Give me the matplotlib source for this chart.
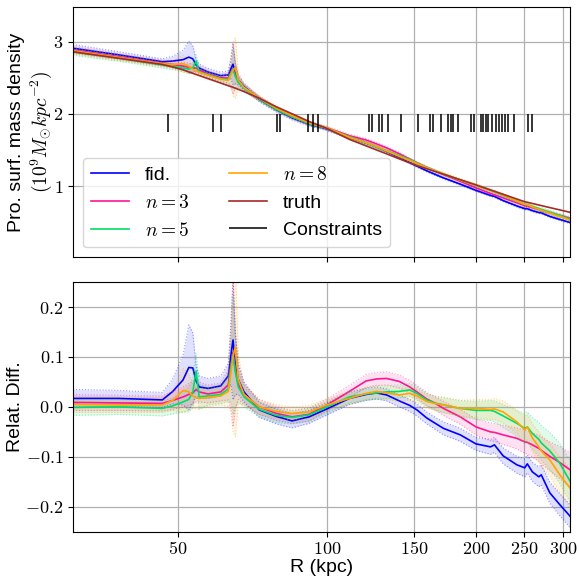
import numpy as np
import matplotlib
matplotlib.use("Agg")
import matplotlib.pyplot as plt
from matplotlib.ticker import FixedLocator, NullLocator, FuncFormatter

plt.rcParams['font.family'] = ['Liberation Sans', 'DejaVu Sans']
plt.rcParams['mathtext.fontset'] = 'cm'

# radius grid (kpc)
R = [30.7, 38, 46.5, 48.8, 51.2, 52.6, 53.6, 54.4, 55.2, 57.5,
     61, 63.2, 64.0, 64.6, 65.3, 66.2, 68, 73, 79, 85,
     92, 100, 111, 120, 126, 132, 140, 147, 152, 159,
     165, 172, 186, 200, 214, 218, 227, 242, 251, 254,
     260, 268, 271, 282, 295, 310]

# true projected surface mass density (1e9 Msun/kpc^2)
truth = [2.86, 2.77, 2.685, 2.65, 2.61, 2.582, 2.562, 2.547, 2.532, 2.489,
         2.428, 2.391, 2.378, 2.37, 2.357, 2.341, 2.309, 2.217, 2.10, 2.003,
         1.897, 1.80, 1.649, 1.559, 1.502, 1.449, 1.38, 1.324, 1.287, 1.243,
         1.207, 1.167, 1.091, 1.02, 0.95, 0.931, 0.89, 0.824, 0.787, 0.779,
         0.763, 0.742, 0.734, 0.706, 0.675, 0.64]

# relative differences and band half-widths
diff_fid = [0.017, 0.017, 0.014, 0.031, 0.054, 0.079, 0.078, 0.052, 0.040, 0.037,
            0.042, 0.062, 0.105, 0.134, 0.085, 0.055, 0.030, -0.006, -0.019, -0.028,
            -0.020, -0.004, 0.017, 0.025, 0.028, 0.024, 0.012, 0.003, -0.006, -0.022,
            -0.032, -0.043, -0.056, -0.074, -0.080, -0.076, -0.098, -0.116, -0.122, -0.114,
            -0.130, -0.140, -0.136, -0.172, -0.195, -0.219]
err_fid = [0.018, 0.016, 0.015, 0.025, 0.05, 0.085, 0.07, 0.03, 0.022, 0.02,
           0.02, 0.025, 0.06, 0.12, 0.06, 0.03, 0.02, 0.015, 0.015, 0.014,
           0.013, 0.012, 0.012, 0.012, 0.012, 0.012, 0.012, 0.012, 0.012, 0.012,
           0.012, 0.013, 0.013, 0.013, 0.015, 0.015, 0.016, 0.017, 0.018, 0.018,
           0.019, 0.02, 0.02, 0.021, 0.022, 0.023]

diff_n3 = [0.009, 0.008, 0.007, 0.013, 0.020, 0.025, 0.028, 0.035, 0.030, 0.026,
           0.030, 0.044, 0.085, 0.110, 0.075, 0.045, 0.025, 0.0, -0.013, -0.020,
           -0.015, 0.004, 0.031, 0.052, 0.056, 0.057, 0.051, 0.040, 0.030, 0.016,
           0.008, -0.003, -0.020, -0.040, -0.050, -0.051, -0.056, -0.063, -0.070, -0.071,
           -0.076, -0.083, -0.087, -0.099, -0.111, -0.126]
err_n3 = [0.016, 0.015, 0.015, 0.018, 0.02, 0.022, 0.022, 0.025, 0.02, 0.018,
          0.018, 0.03, 0.09, 0.15, 0.08, 0.03, 0.02, 0.015, 0.014, 0.013,
          0.013, 0.012, 0.012, 0.013, 0.013, 0.013, 0.013, 0.013, 0.013, 0.013,
          0.013, 0.014, 0.015, 0.016, 0.018, 0.018, 0.019, 0.021, 0.023, 0.023,
          0.024, 0.026, 0.027, 0.029, 0.032, 0.035]

diff_n5 = [-0.001, 0.0, -0.003, 0.002, 0.010, 0.015, 0.030, 0.072, 0.020, 0.022,
           0.025, 0.036, 0.080, 0.105, 0.070, 0.040, 0.020, -0.005, -0.017, -0.021,
           -0.016, 0.0, 0.020, 0.026, 0.028, 0.030, 0.031, 0.034, 0.027, 0.014,
           0.008, 0.004, -0.003, -0.007, -0.007, -0.009, -0.018, -0.033, -0.043, -0.040,
           -0.053, -0.065, -0.072, -0.088, -0.112, -0.149]
err_n5 = [0.016, 0.015, 0.015, 0.016, 0.02, 0.025, 0.03, 0.035, 0.025, 0.018,
          0.018, 0.025, 0.07, 0.12, 0.07, 0.03, 0.02, 0.015, 0.014, 0.013,
          0.013, 0.012, 0.012, 0.012, 0.013, 0.013, 0.013, 0.013, 0.013, 0.013,
          0.014, 0.015, 0.016, 0.018, 0.02, 0.021, 0.023, 0.026, 0.03, 0.03,
          0.032, 0.034, 0.035, 0.037, 0.04, 0.042]

diff_n8 = [0.005, 0.004, 0.004, 0.013, 0.033, 0.030, 0.022, 0.018, 0.017, 0.019,
           0.022, 0.031, 0.070, 0.100, 0.120, 0.055, 0.025, 0.0, -0.009, -0.013,
           -0.010, 0.004, 0.017, 0.027, 0.031, 0.028, 0.024, 0.027, 0.022, 0.011,
           0.007, 0.004, -0.003, -0.003, -0.005, -0.004, -0.010, -0.030, -0.046, -0.040,
           -0.062, -0.080, -0.088, -0.106, -0.135, -0.163]
err_n8 = [0.016, 0.015, 0.015, 0.02, 0.045, 0.035, 0.025, 0.022, 0.02, 0.018,
          0.018, 0.03, 0.08, 0.15, 0.18, 0.05, 0.02, 0.015, 0.014, 0.013,
          0.013, 0.012, 0.012, 0.012, 0.013, 0.013, 0.013, 0.013, 0.013, 0.013,
          0.014, 0.015, 0.016, 0.018, 0.02, 0.021, 0.022, 0.024, 0.026, 0.026,
          0.028, 0.03, 0.031, 0.033, 0.036, 0.04]

# radii of the constraints (kpc)
constraints = [47.7, 58.8, 61.1, 79.2, 80.4, 91.5, 93.7, 95.9,
               121.6, 123.3, 127.4, 129.2, 132.8, 141.1, 152.7, 161.5, 163.8,
               170.0, 175.6, 178.0, 179.7, 183.9, 195.4, 198.1, 204.7, 206.6,
               209.5, 211.5, 215.4, 219.5, 222.6, 225.7, 228.9, 232.1, 238.6,
               254.7, 259.5]

xticks = [50, 100, 150, 200, 250, 300]

series = [
    ("fid.", "blue", diff_fid, err_fid),
    ("$n=3$", "deeppink", diff_n3, err_n3),
    ("$n=5$", "#00dd66", diff_n5, err_n5),
    ("$n=8$", "orange", diff_n8, err_n8),
]

R = np.array(R)
truth = np.array(truth)

fig = plt.figure(figsize=(5.8, 5.78), dpi=100)
ax1 = fig.add_axes([0.126, 0.555, 0.857, 0.433])
ax2 = fig.add_axes([0.126, 0.080, 0.857, 0.432], sharex=ax1)

for label, c, d, e in series:
    d = np.array(d)
    e = np.array(e)
    lo, hi = d - e, d + e
    # top: density
    ax1.fill_between(R, truth * (1 + lo), truth * (1 + hi), color=c, alpha=0.12, lw=0)
    ax1.plot(R, truth * (1 + lo), ':', color=c, lw=0.8, alpha=0.4)
    ax1.plot(R, truth * (1 + hi), ':', color=c, lw=0.8, alpha=0.4)
    ax1.plot(R, truth * (1 + d), color=c, lw=1.2, label=label)
    # bottom: relative difference
    ax2.fill_between(R, lo, hi, color=c, alpha=0.12, lw=0)
    ax2.plot(R, lo, ':', color=c, lw=0.8, alpha=0.4)
    ax2.plot(R, hi, ':', color=c, lw=0.8, alpha=0.4)
    ax2.plot(R, d, color=c, lw=1.2)

ax1.plot(R, truth, color="brown", lw=1.2, label="truth")
ax1.vlines(constraints, 1.75, 2.0, color="k", lw=1.1, label="Constraints")

ax1.legend(loc="lower left", ncol=2, fontsize=14)

for ax in (ax1, ax2):
    ax.set_xscale("log")
    ax.xaxis.set_major_locator(FixedLocator(xticks))
    ax.xaxis.set_minor_locator(NullLocator())
    ax.xaxis.set_major_formatter(FuncFormatter(lambda v, p: f"${v:g}$"))
    ax.grid(True, color="#b0b0b0", lw=0.9)
    ax.set_axisbelow(True)
    ax.tick_params(labelsize=13)

ax1.set_xlim(30.7, 310)
ax1.set_ylim(0.02, 3.48)
ax1.yaxis.set_major_locator(FixedLocator([1, 2, 3]))
ax1.yaxis.set_major_formatter(FuncFormatter(lambda v, p: f"${v:g}$"))
ax1.tick_params(labelbottom=False)
ax1.set_ylabel("Pro. surf. mass density\n$(10^9 M_{\\odot} kpc^{-2})$",
               fontsize=14, labelpad=-0.5)

ax2.set_ylim(-0.25, 0.25)
ax2.yaxis.set_major_locator(FixedLocator([-0.2, -0.1, 0.0, 0.1, 0.2]))
ax2.yaxis.set_major_formatter(FuncFormatter(lambda v, p: f"${v:.1f}$"))
ax2.set_ylabel("Relat. Diff.", fontsize=14, labelpad=0.5)
ax2.set_xlabel("R (kpc)", fontsize=14, labelpad=0.5)

fig.savefig("out.png", dpi=100)
